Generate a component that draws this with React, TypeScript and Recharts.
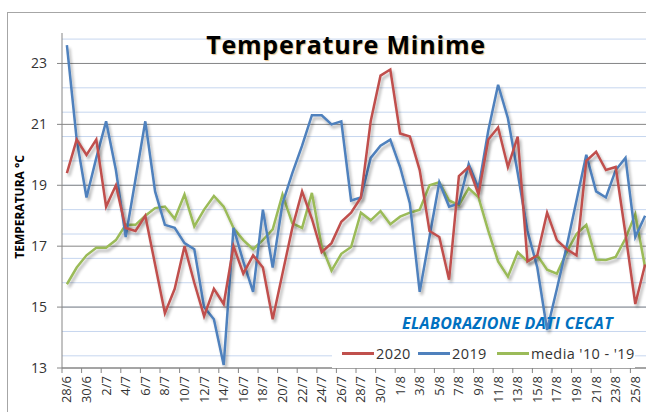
import React from 'react';
import { LineChart, Line, XAxis, YAxis, CartesianGrid } from 'recharts';

// giorni dal 28/6 al 26/8
const days = [
  '28/6', '29/6', '30/6',
  '1/7', '2/7', '3/7', '4/7', '5/7', '6/7', '7/7', '8/7', '9/7', '10/7',
  '11/7', '12/7', '13/7', '14/7', '15/7', '16/7', '17/7', '18/7', '19/7', '20/7',
  '21/7', '22/7', '23/7', '24/7', '25/7', '26/7', '27/7', '28/7', '29/7', '30/7', '31/7',
  '1/8', '2/8', '3/8', '4/8', '5/8', '6/8', '7/8', '8/8', '9/8', '10/8',
  '11/8', '12/8', '13/8', '14/8', '15/8', '16/8', '17/8', '18/8', '19/8', '20/8',
  '21/8', '22/8', '23/8', '24/8', '25/8', '26/8'
];

const t2020 = [
  19.4, 20.5, 20.0, 20.5, 18.3, 19.0, 17.6, 17.5, 18.0, 16.4,
  14.8, 15.6, 17.0, 15.8, 14.7, 15.6, 15.1, 17.0, 16.1, 16.7,
  16.3, 14.6, 16.1, 17.6, 18.8, 17.9, 16.8, 17.1, 17.8, 18.1,
  18.6, 21.1, 22.6, 22.8, 20.7, 20.6, 19.5, 17.5, 17.3, 15.9,
  19.3, 19.6, 18.7, 20.5, 20.9, 19.6, 20.6, 16.5, 16.7, 18.1,
  17.2, 16.9, 16.7, 19.8, 20.1, 19.5, 19.6, 17.4, 15.1, 16.4
];

const t2019 = [
  23.6, 20.5, 18.6, 19.9, 21.1, 19.5, 17.3, 19.2, 21.1, 18.8,
  17.7, 17.6, 17.1, 16.9, 15.0, 14.6, 13.1, 17.6, 16.5, 15.5,
  18.2, 16.3, 18.4, 19.4, 20.3, 21.3, 21.3, 21.0, 21.1, 18.5,
  18.6, 19.9, 20.3, 20.5, 19.6, 18.4, 15.5, 17.3, 19.1, 18.3,
  18.4, 19.7, 18.9, 20.8, 22.3, 21.2, 19.4, 17.5, 16.3, 14.25,
  15.6, 17.0, 18.5, 20.0, 18.8, 18.6, 19.5, 19.9, 17.3, 18.0
];

const media = [
  15.75, 16.3, 16.7, 16.95, 16.95, 17.2, 17.7, 17.7, 18.0, 18.25,
  18.3, 17.9, 18.7, 17.65, 18.2, 18.65, 18.3, 17.6, 17.2, 16.9,
  17.2, 17.55, 18.7, 17.75, 17.6, 18.75, 17.0, 16.2, 16.75, 16.97,
  18.1, 17.85, 18.15, 17.72, 17.97, 18.1, 18.2, 19.0, 19.1, 18.5,
  18.35, 18.9, 18.6, 17.5, 16.5, 16.0, 16.8, 16.5, 16.7, 16.23,
  16.1, 16.8, 17.4, 17.7, 16.56, 16.55, 16.65, 17.25, 18.05, 16.3
];

const yTicks = [13, 15, 17, 19, 21, 23];

const data = days.map((d, i) => ({ day: d, a2020: t2020[i], a2019: t2019[i], media: media[i] }));

// linee secondarie ogni 0.4
const minorLines: number[] = [];
for (let v = 13.4; v < 24; v += 0.4) minorLines.push(Math.round(v * 10) / 10);

const RED = '#C0504D';
const BLUE = '#4F81BD';
const GREEN = '#9BBB59';
const FONT = '"Open Sans", "DejaVu Sans", sans-serif';

const XTick = (props: any) => {
  const { x, payload } = props;
  return (
    <g>
      <line x1={x - 4.9} x2={x - 4.9} y1={368} y2={373} stroke="#868686" />
      <text
        transform={`translate(${x + 4.5},376) rotate(-90)`}
        textAnchor="end"
        fontSize={13}
        fill="#333"
        fontFamily={FONT}
      >
        {payload.value}
      </text>
    </g>
  );
};

const LegendItem = ({ color, label, left }: { color: string; label: string; left: number }) => (
  <div style={{ position: 'absolute', left, top: 0, height: 30, display: 'flex', alignItems: 'center' }}>
    <div style={{ width: 32, height: 3, background: color }} />
    <span style={{ marginLeft: 2, fontSize: 14.5, letterSpacing: 0.4, color: '#333', fontFamily: FONT }}>{label}</span>
  </div>
);

export default function App() {
  return (
    <div style={{ position: 'absolute', left: 0, top: 0, width: 646, height: 412, overflow: 'hidden', background: '#fff' }}>
      <div style={{ position: 'absolute', left: 7, top: 12, width: 700, height: 500, border: '1px solid #A6A6A6' }} />
      <div style={{ position: 'absolute', left: 0, top: 0 }}>
        <LineChart width={650} height={412} data={data} margin={{ top: 33, right: 0, bottom: 0, left: 8 }}>
          <defs>
            <filter id="lineShadow" filterUnits="userSpaceOnUse" x="0" y="0" width="700" height="420">
              <feGaussianBlur in="SourceAlpha" stdDeviation="1.6" />
              <feOffset dx="2" dy="3" />
              <feComponentTransfer>
                <feFuncA type="linear" slope="0.3" />
              </feComponentTransfer>
              <feMerge>
                <feMergeNode />
                <feMergeNode in="SourceGraphic" />
              </feMerge>
            </filter>
          </defs>
          <CartesianGrid vertical={false} horizontalValues={minorLines} stroke="#C6D6EF" strokeWidth={1} />
          <CartesianGrid vertical={false} horizontalValues={yTicks} stroke="#868686" strokeWidth={1} />
          <XAxis
            dataKey="day"
            interval={1}
            height={44}
            padding={{ left: 4.9, right: 4.9 }}
            axisLine={{ stroke: '#868686' }}
            tickLine={false}
            tick={<XTick />}
          />
          <YAxis
            width={54}
            domain={[13, 24]}
            ticks={yTicks}
            allowDataOverflow
            axisLine={{ stroke: '#868686' }}
            tickLine={{ stroke: '#868686' }}
            tickSize={5}
            tickMargin={10}
            tick={{ fontSize: 14, fill: '#333', fontFamily: FONT }}
          />
          <Line dataKey="media" stroke={GREEN} strokeWidth={2.5} dot={false} isAnimationActive={false} filter="url(#lineShadow)" />
          <Line dataKey="a2019" stroke={BLUE} strokeWidth={2.5} dot={false} isAnimationActive={false} filter="url(#lineShadow)" />
          <Line dataKey="a2020" stroke={RED} strokeWidth={2.5} dot={false} isAnimationActive={false} filter="url(#lineShadow)" />
        </LineChart>
      </div>

      <div
        style={{
          position: 'absolute', left: 346, top: 44, transform: 'translate(-50%, -50%)', whiteSpace: 'nowrap',
          fontFamily: FONT, fontWeight: 700, fontSize: 25, letterSpacing: 0.8, color: '#000',
          textShadow: '1px 1px 1px rgba(200,120,0,0.45)'
        }}
      >
        Temperature Minime
      </div>

      <div
        style={{
          position: 'absolute', left: 19, top: 207, transform: 'translate(-50%, -50%) rotate(-90deg)', whiteSpace: 'nowrap',
          fontFamily: FONT, fontWeight: 700, fontSize: 12, color: '#000'
        }}
      >
        TEMPERATURA °C
      </div>

      <div
        style={{
          position: 'absolute', left: 402, top: 312, whiteSpace: 'nowrap',
          fontFamily: FONT, fontWeight: 700, fontStyle: 'italic', fontSize: 16, letterSpacing: 0.3, color: '#0070C0'
        }}
      >
        ELABORAZIONE DATI CECAT
      </div>

      <div style={{ position: 'absolute', left: 332, top: 338, width: 303, height: 30, background: '#fff' }}>
        <LegendItem color={RED} label="2020" left={10} />
        <LegendItem color={BLUE} label="2019" left={86} />
        <LegendItem color={GREEN} label="media '10 - '19" left={165} />
      </div>
    </div>
  );
}
